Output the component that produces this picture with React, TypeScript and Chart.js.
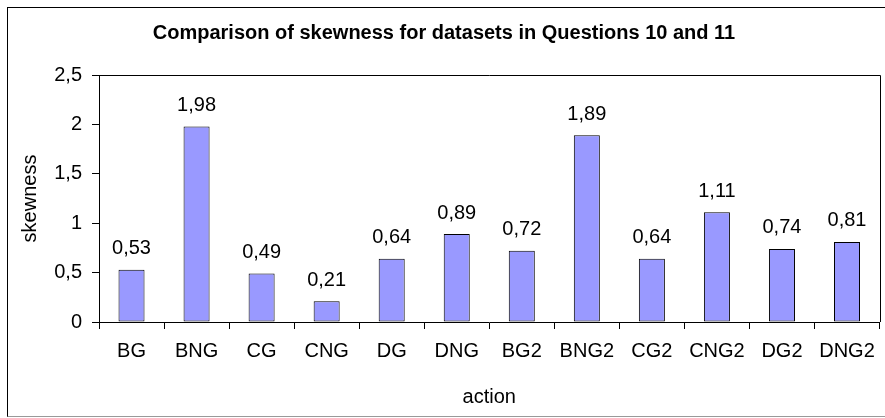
import React, { useEffect, useRef } from 'react';
import { Chart, registerables } from 'chart.js';

Chart.register(...registerables);

const categories = ['BG', 'BNG', 'CG', 'CNG', 'DG', 'DNG', 'BG2', 'BNG2', 'CG2', 'CNG2', 'DG2', 'DNG2'];
const skewness = [0.53, 1.98, 0.49, 0.21, 0.64, 0.89, 0.72, 1.89, 0.64, 1.11, 0.74, 0.81];
const yTicks = [0, 0.5, 1, 1.5, 2, 2.5];
const chartTitle = 'Comparison of skewness for datasets in Questions 10 and 11';
const xTitle = 'action';
const yTitle = 'skewness';

const FONT = '"Liberation Sans", Arial, sans-serif';
const fmtTick = (v: number) => String(v).replace('.', ',');
const fmtLabel = (v: number) => v.toFixed(2).replace('.', ',');

const plotBorder = {
  id: 'plotBorder',
  afterDraw(chart: any) {
    const { ctx, chartArea } = chart;
    const { left, top, right, bottom } = chartArea;
    ctx.save();
    ctx.strokeStyle = '#000';
    ctx.lineWidth = 1;
    ctx.beginPath();
    ctx.moveTo(left, Math.round(top) + 0.5);
    ctx.lineTo(Math.round(right) + 0.5, Math.round(top) + 0.5);
    ctx.lineTo(Math.round(right) + 0.5, bottom);
    ctx.stroke();
    ctx.restore();
  },
};

const valueLabels = {
  id: 'valueLabels',
  afterDatasetsDraw(chart: any) {
    const { ctx } = chart;
    const meta = chart.getDatasetMeta(0);
    const data = chart.data.datasets[0].data as number[];
    ctx.save();
    ctx.font = `20px ${FONT}`;
    ctx.fillStyle = '#000';
    ctx.textAlign = 'center';
    ctx.textBaseline = 'middle';
    meta.data.forEach((bar: any, i: number) => {
      ctx.fillText(fmtLabel(data[i]), bar.x, bar.y - 21);
    });
    ctx.restore();
  },
};

export default function App() {
  const ref = useRef<HTMLCanvasElement | null>(null);

  useEffect(() => {
    if (!ref.current) return;
    const chart = new Chart(ref.current, {
      type: 'bar',
      data: {
        labels: categories,
        datasets: [
          {
            label: yTitle,
            data: skewness,
            backgroundColor: '#9999FF',
            borderColor: '#000',
            borderWidth: 1,
            borderSkipped: false,
            barPercentage: 0.4,
            categoryPercentage: 1,
          },
        ],
      },
      options: {
        animation: false,
        responsive: false,
        maintainAspectRatio: false,
        devicePixelRatio: 1,
        layout: { padding: { left: 0, right: 5, top: 0, bottom: 0 } },
        plugins: {
          legend: { display: false },
          tooltip: { enabled: false },
          title: {
            display: true,
            text: chartTitle,
            color: '#000',
            font: { family: FONT, size: 20, weight: 'bold' },
            padding: { top: 13, bottom: 30 },
          },
        },
        scales: {
          x: {
            offset: true,
            grid: {
              offset: true,
              drawOnChartArea: false,
              drawTicks: true,
              tickLength: 7,
              color: '#000',
            },
            border: { display: true, color: '#000', width: 1 },
            ticks: {
              color: '#000',
              font: { family: FONT, size: 20 },
              padding: 10,
              maxRotation: 0,
              autoSkip: false,
            },
            title: {
              display: true,
              text: xTitle,
              color: '#000',
              font: { family: FONT, size: 20 },
              padding: { top: 0, bottom: 7 },
            },
            afterFit(scale: any) {
              scale.height = 94;
            },
          },
          y: {
            min: 0,
            max: 2.5,
            grid: {
              drawOnChartArea: false,
              drawTicks: true,
              tickLength: 7,
              color: '#000',
            },
            border: { display: true, color: '#000', width: 1 },
            ticks: {
              color: '#000',
              font: { family: FONT, size: 20 },
              padding: 10,
              callback: (v: any) => fmtTick(Number(v)),
            },
            afterBuildTicks(scale: any) {
              scale.ticks = yTicks.map((v) => ({ value: v }));
            },
            title: {
              display: true,
              text: yTitle,
              color: '#000',
              font: { family: FONT, size: 20 },
              padding: { top: 10, bottom: 0 },
            },
            afterFit(scale: any) {
              scale.width = 91;
            },
          },
        },
      },
      plugins: [plotBorder, valueLabels],
    });
    return () => chart.destroy();
  }, []);

  return (
    <div
      style={{
        position: 'fixed',
        left: 0,
        top: 0,
        width: 885,
        height: 418,
        overflow: 'hidden',
        background: '#fff',
      }}
    >
      <div
        style={{
          position: 'absolute',
          left: 7,
          top: 7,
          width: 900,
          height: 408,
          borderLeft: '1px solid #000',
          borderTop: '1px solid #000',
          borderBottom: '1px solid #999',
          borderRight: '1px solid #000',
        }}
      />
      <canvas
        ref={ref}
        width={877}
        height={408}
        style={{ position: 'absolute', left: 8, top: 8, width: 877, height: 408 }}
      />
    </div>
  );
}
